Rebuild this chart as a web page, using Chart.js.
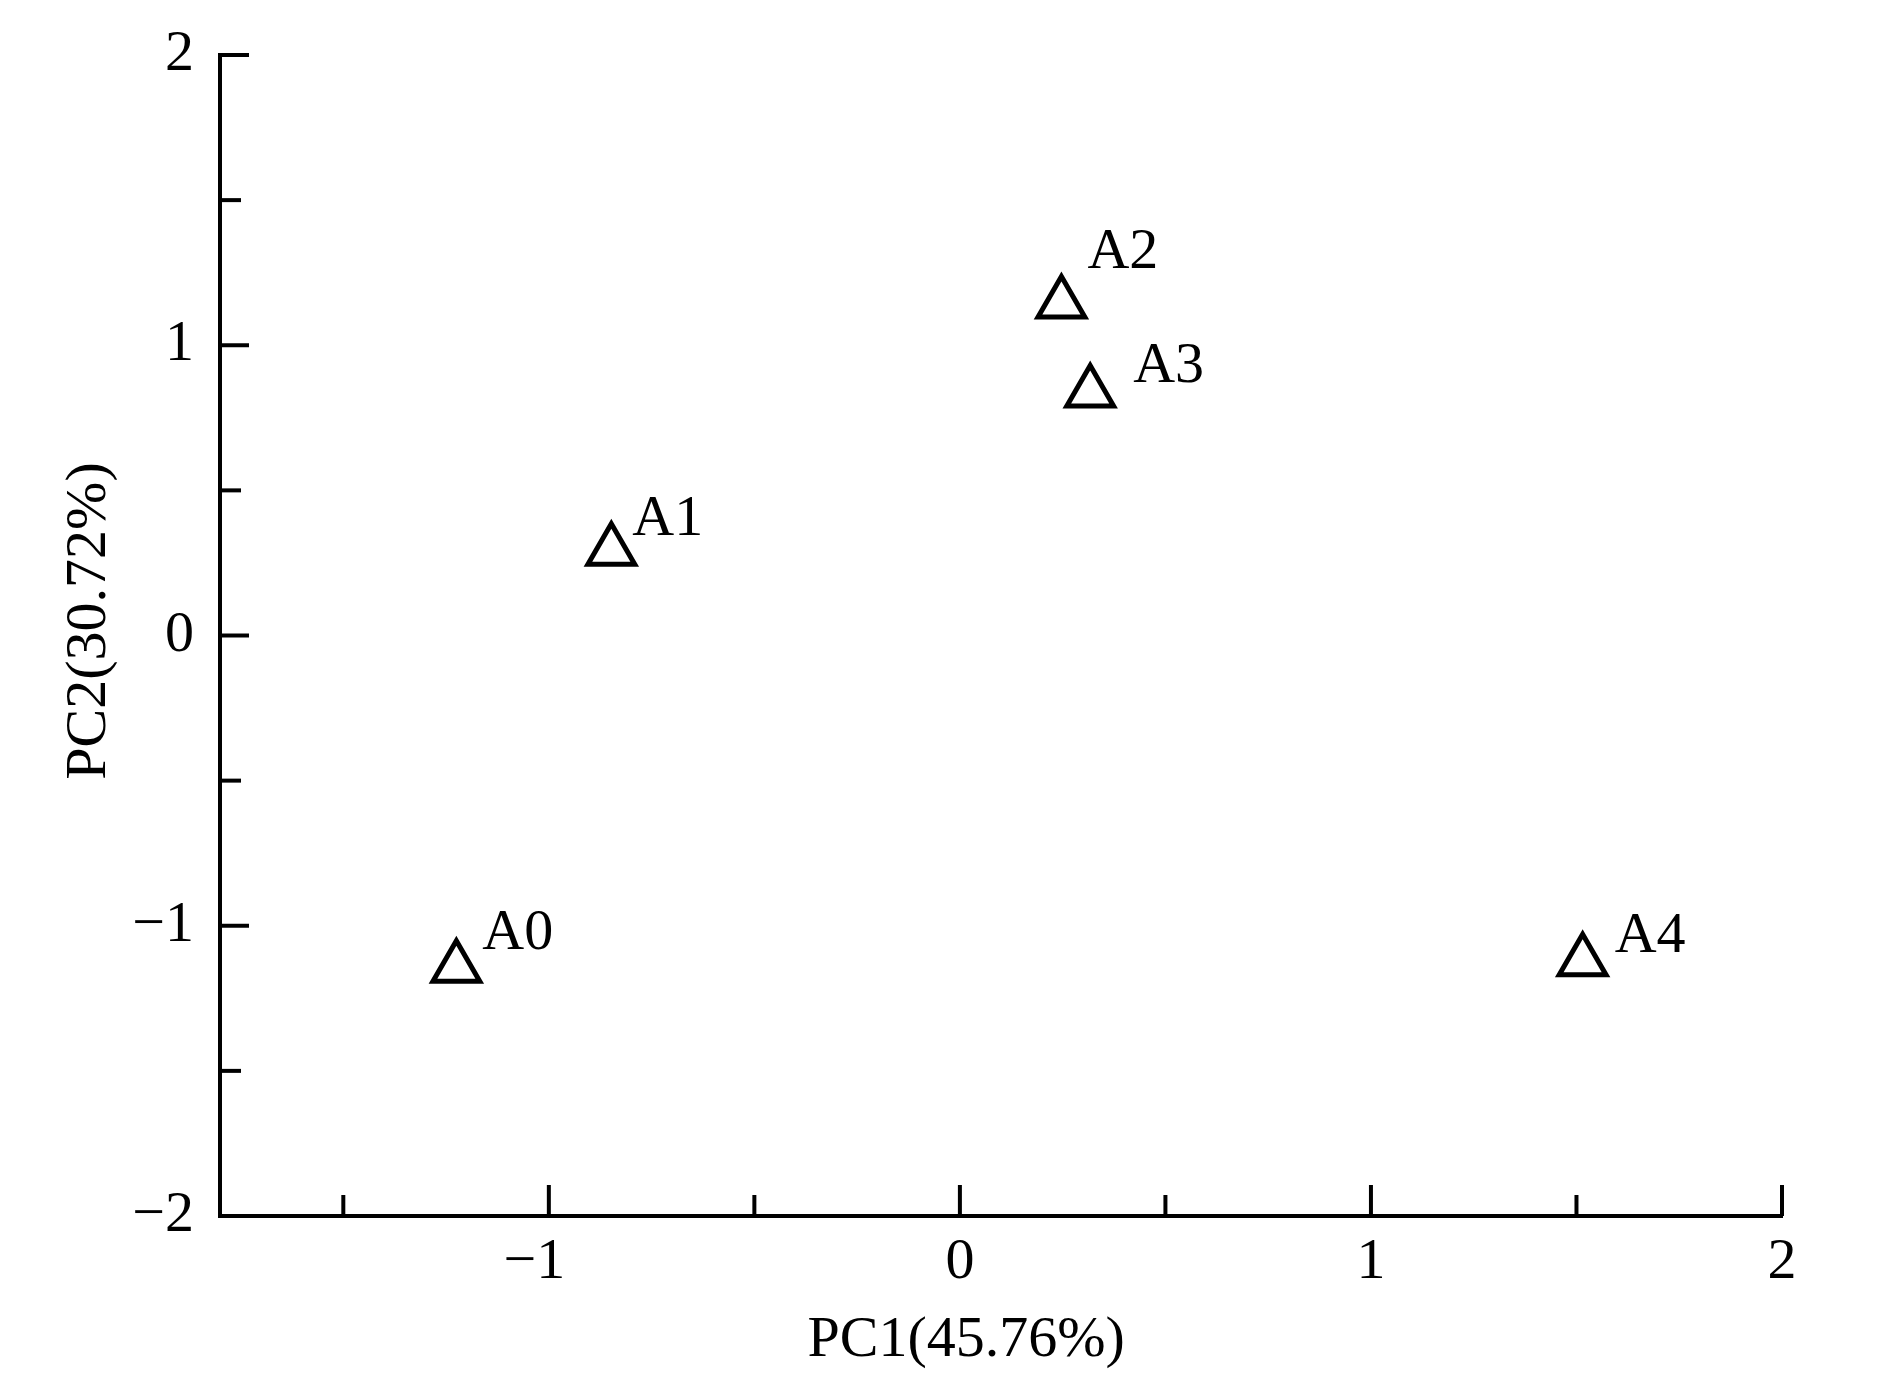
<!DOCTYPE html>
<html>
<head>
<meta charset="utf-8">
<title>PCA</title>
<script src="https://cdn.jsdelivr.net/npm/chart.js@4.4.1/dist/chart.umd.min.js"></script>
<style>
	body { margin: 0; background: #fff; }
	#wrap { width: 1890px; height: 1400px; }
</style>
</head>
<body>
<div id="wrap"><canvas id="chartDisplay"></canvas></div>
<script>
// sample names and their scores on the first two components
const sampleNames = ["A0", "A1", "A2", "A3", "A4"];
const pc1Values = [-1.225, -0.848, 0.247, 0.317, 1.515];
const pc2Values = [-1.145, 0.292, 1.144, 0.837, -1.122];

const xTickValues = [-1.5, -1, -0.5, 0, 0.5, 1, 1.5, 2];
const yTickValues = [-2, -1.5, -1, -0.5, 0, 0.5, 1, 1.5, 2];

const xTitle = "PC1(45.76%)";
const yTitle = "PC2(30.72%)";

const serif = "'Liberation Serif', 'Times New Roman', serif";

/**
 * Format a tick value, using a real minus sign
 *
 * @param {number} v Tick value
 */
function fmtTick(v) {
	if (!Number.isInteger(v)) return "";
	return v < 0 ? "\u2212" + Math.abs(v) : String(v);
}

// inward tick marks, long on whole numbers and short on halves
const innerTicks = {
	id: "innerTicks",
	afterDraw(chart) {
		const ctx = chart.ctx;
		const xs = chart.scales.x;
		const ys = chart.scales.y;
		const area = chart.chartArea;
		ctx.save();
		ctx.strokeStyle = "#000";
		ctx.lineWidth = 4;
		xs.ticks.forEach(t => {
			const px = xs.getPixelForValue(t.value);
			const len = Number.isInteger(t.value) ? 31 : 21;
			ctx.beginPath();
			ctx.moveTo(px, area.bottom);
			ctx.lineTo(px, area.bottom - len);
			ctx.stroke();
		});
		ys.ticks.forEach(t => {
			const py = ys.getPixelForValue(t.value);
			const len = Number.isInteger(t.value) ? 29 : 21;
			ctx.beginPath();
			ctx.moveTo(area.left, py);
			ctx.lineTo(area.left + len, py);
			ctx.stroke();
		});
		ctx.restore();
	}
};

// sample names next to each marker
const pointLabels = {
	id: "pointLabels",
	afterDatasetsDraw(chart, args, opts) {
		const ctx = chart.ctx;
		const meta = chart.getDatasetMeta(0);
		ctx.save();
		ctx.font = "58px " + serif;
		ctx.fillStyle = "#000";
		ctx.textAlign = "left";
		ctx.textBaseline = "alphabetic";
		meta.data.forEach((pt, i) => {
			const off = opts.offsets[i];
			ctx.fillText(sampleNames[i], pt.x + off[0], pt.y + off[1]);
		});
		ctx.restore();
	}
};

const points = pc1Values.map((v, i) => ({ x: v, y: pc2Values[i] }));

new Chart(document.getElementById("chartDisplay"), {
	type: "scatter",
	data: {
		datasets: [{
			label: "samples",
			data: points,
			pointStyle: "triangle",
			pointRadius: 27,
			pointHoverRadius: 27,
			pointBorderWidth: 5,
			pointHoverBorderWidth: 5,
			borderColor: "#000",
			backgroundColor: "rgba(0,0,0,0)"
		}]
	},
	options: {
		responsive: true,
		maintainAspectRatio: false,
		animation: false,
		events: [],
		layout: {
			padding: { top: 55, right: 108, bottom: 0, left: 0 }
		},
		plugins: {
			legend: { display: false },
			tooltip: { enabled: false },
			pointLabels: {
				offsets: [[26, -19], [21, -16], [26, -35], [43, -11], [32, -9]]
			}
		},
		scales: {
			x: {
				type: "linear",
				min: -1.8,
				max: 2,
				afterBuildTicks: s => { s.ticks = xTickValues.map(v => ({ value: v })); },
				afterFit: s => {
					s.height = 184;
					s.paddingLeft = 0;
					s.paddingRight = 0;
				},
				grid: { display: false, drawTicks: false },
				border: { display: true, color: "#000", width: 4 },
				ticks: {
					autoSkip: false,
					maxRotation: 0,
					padding: 12,
					color: "#000",
					font: { family: serif, size: 58 },
					// trailing en space keeps the digit centred under its tick
					callback: v => v < 0 && Number.isInteger(v) ? fmtTick(v) + "\u2002" : fmtTick(v)
				},
				title: {
					display: true,
					// trailing spaces pull the title left, under the zero tick
					text: xTitle + "\u2002\u2002\u2009",
					color: "#000",
					font: { family: serif, size: 58 },
					padding: { top: 0, bottom: 24 }
				}
			},
			y: {
				type: "linear",
				min: -2,
				max: 2,
				afterBuildTicks: s => { s.ticks = yTickValues.map(v => ({ value: v })); },
				afterFit: s => {
					s.width = 220;
					s.paddingTop = 0;
					s.paddingBottom = 0;
				},
				grid: { display: false, drawTicks: false },
				border: { display: true, color: "#000", width: 4 },
				ticks: {
					autoSkip: false,
					padding: 26,
					color: "#000",
					font: { family: serif, size: 58 },
					callback: v => fmtTick(v)
				},
				title: {
					display: true,
					// leading space lifts the rotated title a little
					text: "\u2002" + yTitle,
					color: "#000",
					font: { family: serif, size: 58 },
					padding: { top: 55, bottom: 0 }
				}
			}
		}
	},
	plugins: [innerTicks, pointLabels]
});
</script>
</body>
</html>
